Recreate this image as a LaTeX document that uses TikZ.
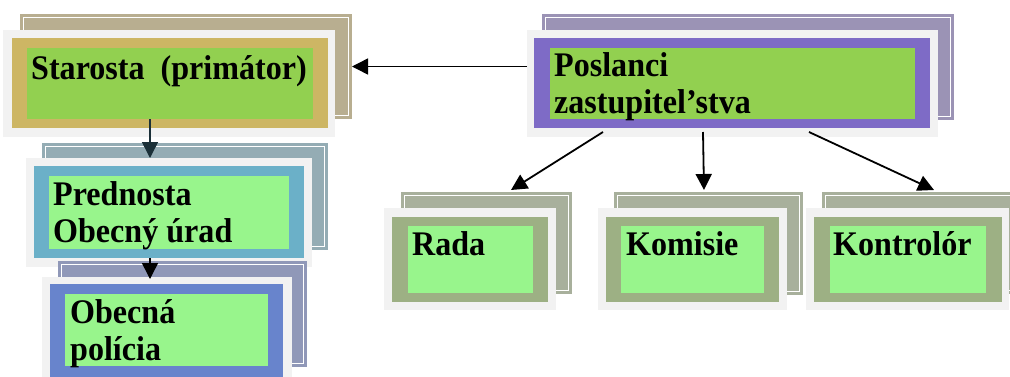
\documentclass[tikz,border=0pt]{standalone}
\usepackage{fontspec}
\setmainfont{Liberation Serif}
\usetikzlibrary{fit,arrows.meta}
\definecolor{frameC}{HTML}{F2F2F2}
\definecolor{greenA}{HTML}{92D050}
\definecolor{greenB}{HTML}{98F58C}
\definecolor{starBack}{HTML}{B8AE90}
\definecolor{starBord}{HTML}{CDB664}
\definecolor{posBack}{HTML}{9B93B5}
\definecolor{posBord}{HTML}{7E6BC6}
\definecolor{preBack}{HTML}{94ACB4}
\definecolor{preBord}{HTML}{6BB0C8}
\definecolor{obeBack}{HTML}{9098B8}
\definecolor{obeBord}{HTML}{6884CC}
\definecolor{lowBack}{HTML}{A8B09C}
\definecolor{lowBord}{HTML}{9DB084}
\definecolor{darkArr}{HTML}{1B3038}
\tikzset{
  box/.style={inner sep=0pt, outer sep=0pt, draw=none},
  label/.style={anchor=base west, inner sep=0pt, align=left, xscale=0.93, transform shape, font=\fontsize{34.5}{37}\selectfont\bfseries},
  arr/.style={line width=1.8pt, -{Triangle[length=16pt,width=16pt]}},
}
% \grp{name}{backcol}{bordcol}{greencol}{back}{front}{border}{green}
\newcommand{\grp}[8]{%
  \node[box, fill=#2, fit={#5}] (#1B) {};
  \draw[white, line width=0.8pt] ([shift={(3.7pt,-3.7pt)}]#1B.north west) rectangle ([shift={(-3.7pt,3.7pt)}]#1B.south east);
  \node[box, fill=frameC, fit={#6}] (#1F) {};
  \node[box, fill=#3, fit={#7}] (#1R) {};
  \node[box, fill=#4, fit={#8}] (#1G) {};
}
\begin{document}
\begin{tikzpicture}[x=1pt,y=-1pt]
\useasboundingbox (0,0) rectangle (1010,376);
\fill[white] (0,0) rectangle (1010,376);
% Starosta
\grp{star}{starBack}{starBord}{greenA}{(20,14)(352,119)}{(3,30)(335,137)}{(12,38)(328,128)}{(27,48)(313,119)}
\node[label] (starT) at (31,79) {Starosta~~(primátor)};
% Poslanci
\grp{posl}{posBack}{posBord}{greenA}{(542,14)(954,120)}{(527,30)(938,137)}{(534,38)(930,128)}{(550,48)(915,119)}
\node[label] (poslT) at (554,113) {Poslanci\\zastupitel’stva};
% Prednosta
\grp{pred}{preBack}{preBord}{greenB}{(42,143)(328,250)}{(26,158)(312,267)}{(34,166)(304,258)}{(49,176)(289,249)}
\node[label] (predT) at (53,242) {Prednosta\\Obecný úrad};
% Obecna policia
\grp{obec}{obeBack}{obeBord}{greenB}{(58,261)(307,367)}{(42,277)(292,378)}{(50,284)(283,378)}{(65,294)(268,366)}
\node[label] (obecT) at (70,360) {Obecná\\polícia};
% Rada
\grp{rada}{lowBack}{lowBord}{greenB}{(401,192)(572,294)}{(384,208)(556,310)}{(392,217)(548,302)}{(408,226)(533,293)}
\node[label] (radaT) at (412,255) {Rada};
% Komisie
\grp{komi}{lowBack}{lowBord}{greenB}{(614,192)(803,295)}{(598,208)(787,310)}{(606,217)(779,302)}{(621,226)(764,293)}
\node[label] (komiT) at (626,255) {Komisie};
% Kontrolor
\grp{kont}{lowBack}{lowBord}{greenB}{(822,192)(1014,294)}{(806,208)(1009,310)}{(814,217)(1002,302)}{(830,226)(986,293)}
\node[label] (kontT) at (833,255) {Kontrolór};
% connectors
\draw[arr, line width=1.5pt] (poslF.west |- starB.east) -- (starB.east);
\draw[arr, draw=darkArr, fill=darkArr, line width=1.5pt] ([xshift=-20pt]starG.south) -- ([xshift=-19pt]predF.north);
\draw[arr, line width=1.5pt] ([xshift=-19pt]predR.south) -- ([shift={(-17pt,-2pt)}]obecF.north);
\draw[arr] ([shift={(-129.5pt,5pt)}]poslF.south) -- ([shift={(24.5pt,2pt)}]radaB.north);
\draw[arr] ([shift={(-29.5pt,5pt)}]poslF.south) -- ([shift={(-4.5pt,2pt)}]komiB.north);
\draw[arr] ([shift={(76.5pt,5pt)}]poslF.south) -- ([shift={(16pt,2pt)}]kontB.north);
\end{tikzpicture}
\end{document}
